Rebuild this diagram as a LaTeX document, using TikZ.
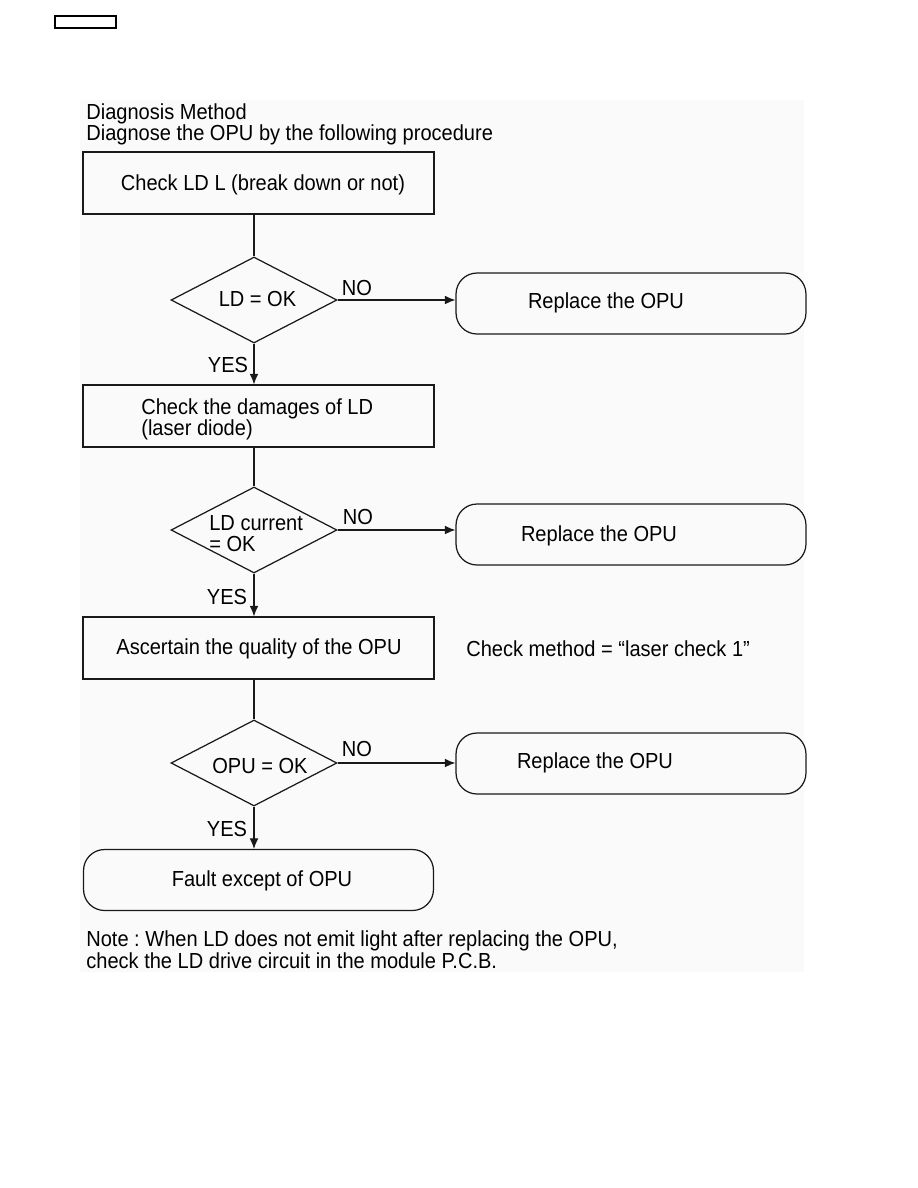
\documentclass[tikz,border=0pt]{standalone}
\usepackage{fontspec}
\setmainfont{Liberation Sans}[FakeStretch=0.92]
\usetikzlibrary{shapes.geometric,arrows.meta}
\frenchspacing
\begin{document}
\begin{tikzpicture}[x=0.02cm,y=-0.02cm,
  every node/.style={font=\fontsize{12.4}{12}\selectfont, inner sep=0pt},
  ln/.style={draw=black!90, line width=0.7pt},
  arr/.style={ln, -{Latex[length=6pt,width=5pt]}},
  sqbox/.style={ln, rectangle, minimum width=7.02cm, minimum height=1.24cm},
  rbox/.style={ln, rectangle, rounded corners=0.42cm, minimum width=7.0cm, minimum height=1.22cm},
  dia/.style={ln, diamond, minimum width=3.32cm, minimum height=1.72cm},
  txt/.style={align=left},
]
\useasboundingbox (0,0) rectangle (918,1188);
\fill[black!2] (80,100) rectangle (804,972);
\node[draw=black, line width=0.8pt, rectangle, minimum width=1.22cm, minimum height=0.24cm] (tag) at (85.5,22) {};

\node[txt, anchor=west] (title) at (86,124) {Diagnosis Method\\[0pt]Diagnose the OPU by the following procedure};

% step 1
\node[sqbox] (b1) at (258.5,183) {};
\node (b1t) at (263,185) {Check LD L (break down or not)};
\node[dia] (d1) at (254,300) {};
\node (d1t) at (257.5,299) {LD = OK};
\node[rbox] (r1) at (631,303.5) {};
\node (r1t) at (606,303) {Replace the OPU};
\node (no1) at (357,288) {NO};
\node (yes1) at (228,365) {YES};

% step 2
\node[sqbox] (b2) at (258.5,416) {};
\node[txt, anchor=west] (b2t) at (141,419) {Check the damages of LD\\[0pt](laser diode)};
\node[dia] (d2) at (254,530) {};
\node[txt, anchor=west] (d2t) at (209,534) {LD current\\[0pt]= OK};
\node[rbox] (r2) at (631,534.5) {};
\node (r2t) at (599,536) {Replace the OPU};
\node (no2) at (358,517) {NO};
\node (yes2) at (227,597) {YES};

% step 3
\node[sqbox] (b3) at (258.5,648) {};
\node (b3t) at (259,649) {Ascertain the quality of the OPU};
\node[anchor=west] (cm) at (466,649) {Check method = “laser check 1”};
\node[dia] (d3) at (254,763) {};
\node (d3t) at (260,766) {OPU = OK};
\node[rbox] (r3) at (631,763.5) {};
\node (r3t) at (595,763) {Replace the OPU};
\node (no3) at (357,749) {NO};
\node (yes3) at (227,829) {YES};

% end
\node[rbox] (f) at (258.5,880) {};
\node (ft) at (262,881) {Fault except of OPU};
\node[txt, anchor=west] (note) at (86,950) {Note : When LD does not emit light after replacing the OPU,\\[0.5pt]check the LD drive circuit in the module P.C.B.};

% connectors
\draw[ln] (d1.north |- b1.south) -- (d1.north);
\draw[arr] (d1.east) -- (d1.east -| r1.west);
\draw[arr] (d1.south) -- (d1.south |- b2.north);
\draw[ln] (d2.north |- b2.south) -- (d2.north);
\draw[arr] (d2.east) -- (d2.east -| r2.west);
\draw[arr] (d2.south) -- (d2.south |- b3.north);
\draw[ln] (d3.north |- b3.south) -- (d3.north);
\draw[arr] (d3.east) -- (d3.east -| r3.west);
\draw[arr] (d3.south) -- (d3.south |- f.north);
\end{tikzpicture}
\end{document}
